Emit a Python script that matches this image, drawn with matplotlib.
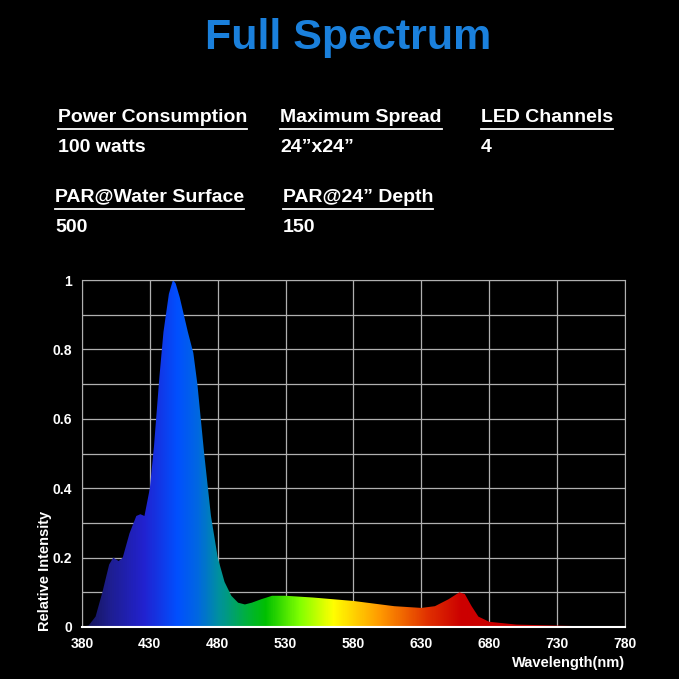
import numpy as np
import matplotlib.pyplot as plt
from matplotlib.colors import LinearSegmentedColormap
from matplotlib.lines import Line2D

wavelength = [380, 385, 390, 395, 400, 403, 407, 410, 415, 420, 423, 426, 430, 433, 437, 440, 444, 447, 449,
              452, 455, 458, 462, 465, 470, 475, 480, 485, 490, 495, 500, 505, 512, 520, 530, 550,
              580, 610, 630, 640, 650, 658, 662, 667, 672, 680, 700, 740, 780]
intensity = [0, 0.005, 0.03, 0.1, 0.18, 0.2, 0.19, 0.2, 0.27, 0.32, 0.325, 0.32, 0.4, 0.52, 0.72, 0.85, 0.96, 1.0, 0.99,
             0.95, 0.9, 0.85, 0.79, 0.7, 0.5, 0.32, 0.2, 0.13, 0.09, 0.07, 0.065, 0.07, 0.08, 0.09, 0.09, 0.085,
             0.075, 0.06, 0.055, 0.06, 0.08, 0.1, 0.095, 0.06, 0.03, 0.015, 0.007, 0.003, 0]

headings = [("Power Consumption", "100 watts", 58, 117),
            ("Maximum Spread", "24\u201dx24\u201d", 280, 117),
            ("LED Channels", "4", 481, 117),
            ("PAR@Water Surface", "500", 55, 197),
            ("PAR@24\u201d Depth", "150", 283, 197)]

plt.rcParams['font.family'] = ['Liberation Sans', 'DejaVu Sans']
W = 679
fig = plt.figure(figsize=(6.79, 6.79), dpi=100, facecolor='black')

def fx(x):
    return x / W

def fy(y):
    return 1 - y / W

fig.text(fx(348), fy(38), "Full Spectrum", color='#1a80dc', fontsize=31, fontweight='bold',
         ha='center', va='center')

heads = []
for h, v, x, y in headings:
    t = fig.text(fx(x), fy(y), h, color='white', fontsize=14, fontweight='bold', va='center')
    heads.append(t)
    fig.text(fx(x), fy(y + 31), v, color='white', fontsize=14, fontweight='bold', va='center')

fig.canvas.draw()
r = fig.canvas.get_renderer()
for t in heads:
    bb = t.get_window_extent(r)
    yl = (bb.y0 - 3) / W
    fig.add_artist(Line2D([bb.x0 / W, bb.x1 / W], [yl, yl], color='white', lw=1.3,
                          transform=fig.transFigure))

ax = fig.add_axes([fx(82), fy(627), (625 - 82) / W, (627 - 280) / W])
ax.set_facecolor('black')
ax.set_xlim(380, 780)
ax.set_ylim(0, 1)

stops = [(380, '#141450'), (400, '#1e1e90'), (425, '#2222d0'), (450, '#0050ff'), (465, '#0068e0'),
         (480, '#0090a0'), (500, '#00b040'), (515, '#00c000'), (540, '#80ff00'), (565, '#ffff00'),
         (600, '#ff9800'), (635, '#e03000'), (660, '#cc0000'), (780, '#cc0000')]
cmap = LinearSegmentedColormap.from_list('spec', [((w - 380) / 400, c) for w, c in stops])
grad = np.linspace(0, 1, 800).reshape(1, -1)
im = ax.imshow(grad, extent=[380, 780, 0, 1], aspect='auto', cmap=cmap, zorder=2)
poly = ax.fill_between(wavelength, intensity, 0, color='none', lw=0)
clip = poly.get_paths()[0]
im.set_clip_path(clip, transform=ax.transData)

ax.set_xticks(range(380, 781, 50))
ax.set_yticks(np.arange(0, 1.01, 0.1))
ax.set_yticklabels(['0', '', '0.2', '', '0.4', '', '0.6', '', '0.8', '', '1'])
ax.grid(True, color='#b0b0b0', lw=0.9, zorder=1)
ax.set_axisbelow(True)
ax.tick_params(colors='white', length=0, labelsize=10, pad=7)
for lab in ax.get_xticklabels() + ax.get_yticklabels():
    lab.set_fontweight('bold')
for s in ax.spines.values():
    s.set_color('#b0b0b0')
ax.spines['bottom'].set_color('white')
ax.spines['bottom'].set_linewidth(1.5)

fig.text(fx(625), fy(663), "Wavelength(nm)", color='white', fontsize=10.5, fontweight='bold',
         ha='right', va='center')
fig.text(fx(45), fy(631), "Relative Intensity", color='white', fontsize=10.5, fontweight='bold',
         rotation=90, ha='center', va='bottom')

fig.savefig('out.png', dpi=100, facecolor='black')
